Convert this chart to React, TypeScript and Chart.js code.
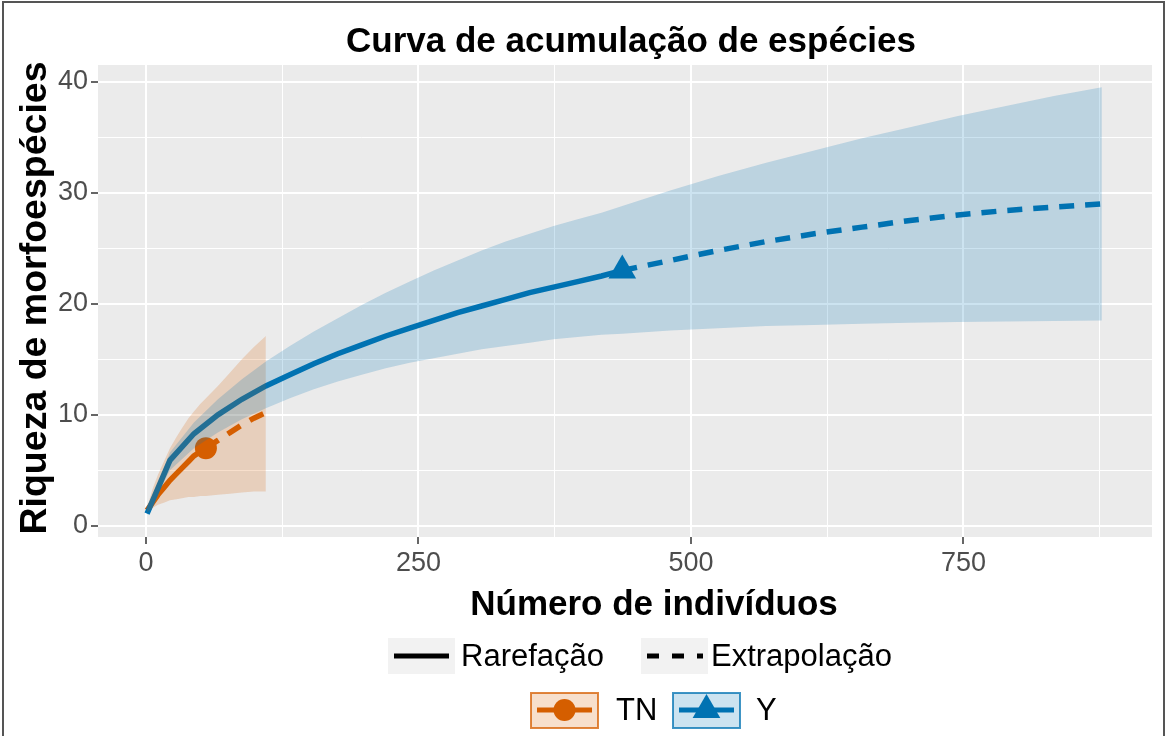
import { useEffect, useRef } from "react";
import { Chart, registerables } from "chart.js";
Chart.register(...registerables);

const titleText = "Curva de acumulação de espécies";
const xTitleText = "Número de indivíduos";
const yTitleText = "Riqueza de morfoespécies";
const legendTypeLabels = ["Rarefação", "Extrapolação"];
const legendGroupLabels = ["TN", "Y"];

const xMajorTicks = [0, 250, 500, 750];
const xMinorTicks = [125, 375, 625, 875];
const yMajorTicks = [0, 10, 20, 30, 40];
const yMinorTicks = [5, 15, 25, 35];

// TN (orange)
const tnRareN = [1, 6, 11, 17, 22, 28, 33, 39, 44, 50, 55];
const tnRareS = [1.4, 2.1, 2.8, 3.5, 4.1, 4.7, 5.2, 5.8, 6.3, 6.7, 7.0];
const tnExtN = [55, 66, 77, 88, 99, 110];
const tnExtS = [7.0, 7.7, 8.4, 9.1, 9.7, 10.2];
const tnObsN = [55];
const tnObsS = [7.0];
const tnBandN = [1, 6, 11, 17, 22, 28, 33, 39, 44, 50, 55, 66, 77, 88, 99, 110];
const tnBandHi = [1.6, 3.3, 4.6, 5.9, 7.0, 8.0, 8.8, 9.7, 10.3, 11.0, 11.5, 12.6, 13.8, 15.0, 16.1, 17.1];
const tnBandLo = [1.2, 1.6, 1.9, 2.1, 2.3, 2.4, 2.5, 2.6, 2.6, 2.7, 2.7, 2.8, 2.9, 3.0, 3.1, 3.1];

// Y (blue)
const yRareN = [1, 22, 44, 66, 88, 110, 132, 154, 176, 198, 220, 242, 264, 286, 308, 330, 352, 374, 396, 418, 437];
const yRareS = [1.1, 5.9, 8.3, 10.0, 11.4, 12.6, 13.6, 14.6, 15.5, 16.3, 17.1, 17.8, 18.5, 19.2, 19.8, 20.4, 21.0, 21.5, 22.0, 22.5, 23.0];
const yExtN = [437, 481, 525, 569, 613, 657, 701, 745, 789, 833, 877];
const yExtS = [23.0, 23.9, 24.8, 25.6, 26.3, 26.9, 27.5, 28.0, 28.4, 28.7, 29.0];
const yObsN = [437];
const yObsS = [23.0];
const yBandN = [1, 22, 44, 66, 88, 110, 132, 154, 176, 198, 220, 242, 264, 286, 308, 330, 352, 374, 396, 418, 437, 481, 525, 569, 613, 657, 701, 745, 789, 833, 877];
const yBandHi = [1.2, 6.6, 9.3, 11.4, 13.2, 14.8, 16.2, 17.5, 18.7, 19.9, 21.0, 22.0, 23.0, 23.9, 24.8, 25.6, 26.3, 27.0, 27.6, 28.2, 28.8, 30.2, 31.5, 32.7, 33.8, 34.9, 35.9, 36.9, 37.8, 38.7, 39.5];
const yBandLo = [1.0, 5.0, 7.0, 8.4, 9.6, 10.6, 11.5, 12.3, 13.0, 13.6, 14.2, 14.7, 15.1, 15.5, 15.9, 16.2, 16.5, 16.8, 17.0, 17.2, 17.3, 17.6, 17.8, 18.0, 18.1, 18.2, 18.3, 18.35, 18.4, 18.45, 18.5];

const ORANGE = "#D55E00";
const BLUE = "#0072B2";
const ORANGE_FILL = "rgba(213,94,0,0.2)";
const BLUE_FILL = "rgba(0,114,178,0.2)";
const FONT = "'Liberation Sans', Arial, Helvetica, sans-serif";

const pts = (xs: number[], ys: number[]) => xs.map((x, i) => ({ x, y: ys[i] }));

const decor = {
  id: "decor",
  beforeDraw(chart: any) {
    const { ctx, chartArea: a } = chart;
    ctx.save();
    ctx.fillStyle = "#ffffff";
    ctx.fillRect(0, 0, chart.width, chart.height);
    ctx.fillStyle = "#EBEBEB";
    ctx.fillRect(a.left, a.top, a.right - a.left, a.bottom - a.top);
    ctx.restore();
  },
  afterDraw(chart: any) {
    const { ctx } = chart;
    ctx.save();
    // Title
    ctx.fillStyle = "#000";
    ctx.font = `bold 35px ${FONT}`;
    ctx.textAlign = "center";
    ctx.textBaseline = "alphabetic";
    ctx.fillText(titleText, 631, 52);
    // X title
    ctx.font = `bold 35px ${FONT}`;
    ctx.fillText(xTitleText, 654, 615);
    // Y title
    ctx.save();
    ctx.translate(46, 298);
    ctx.rotate(-Math.PI / 2);
    ctx.font = `bold 37.5px ${FONT}`;
    ctx.fillText(yTitleText, 0, 0);
    ctx.restore();

    // Legend row 1
    const r1y = 656;
    ctx.fillStyle = "#F2F2F2";
    ctx.fillRect(388, 638, 67, 36);
    ctx.fillRect(641, 638, 67, 36);
    ctx.strokeStyle = "#000";
    ctx.lineWidth = 5;
    ctx.beginPath();
    ctx.moveTo(394, r1y);
    ctx.lineTo(449, r1y);
    ctx.stroke();
    ctx.setLineDash([12, 13]);
    ctx.beginPath();
    ctx.moveTo(647, r1y);
    ctx.lineTo(703, r1y);
    ctx.stroke();
    ctx.setLineDash([]);
    ctx.fillStyle = "#000";
    ctx.font = `31px ${FONT}`;
    ctx.textAlign = "left";
    ctx.textBaseline = "middle";
    ctx.fillText(legendTypeLabels[0], 461, r1y + 1);
    ctx.fillText(legendTypeLabels[1], 711, r1y + 1);

    // Legend row 2
    const r2y = 710;
    const keys = [
      { x: 531, c: ORANGE, f: ORANGE_FILL, shape: "circle", tx: 616 },
      { x: 673, c: BLUE, f: BLUE_FILL, shape: "triangle", tx: 756 },
    ];
    keys.forEach((k, i) => {
      ctx.fillStyle = k.f;
      ctx.fillRect(k.x, 693, 67, 35);
      ctx.strokeStyle = k.c;
      ctx.globalAlpha = 0.75;
      ctx.lineWidth = 2;
      ctx.strokeRect(k.x, 693, 67, 35);
      ctx.globalAlpha = 1;
      ctx.lineWidth = 5;
      ctx.beginPath();
      ctx.moveTo(k.x + 6, r2y);
      ctx.lineTo(k.x + 61, r2y);
      ctx.stroke();
      ctx.fillStyle = k.c;
      const cx = k.x + 33.5;
      if (k.shape === "circle") {
        ctx.beginPath();
        ctx.arc(cx, r2y, 11, 0, Math.PI * 2);
        ctx.fill();
      } else {
        const r = 16;
        ctx.beginPath();
        ctx.moveTo(cx, r2y - r);
        ctx.lineTo(cx + r * 0.866, r2y + r / 2);
        ctx.lineTo(cx - r * 0.866, r2y + r / 2);
        ctx.closePath();
        ctx.fill();
      }
      ctx.fillStyle = "#000";
      ctx.font = `31px ${FONT}`;
      ctx.fillText(legendGroupLabels[i], k.tx, r2y + 1);
    });

    // Frame
    ctx.strokeStyle = "#555";
    ctx.lineWidth = 2;
    ctx.strokeRect(3, 2, 1161, 760);
    ctx.restore();
  },
};

export default function App() {
  const ref = useRef<HTMLCanvasElement>(null);
  useEffect(() => {
    if (!ref.current) return;
    const xTicksAll = [...xMajorTicks, ...xMinorTicks].sort((a, b) => a - b);
    const yTicksAll = [...yMajorTicks, ...yMinorTicks].sort((a, b) => a - b);
    const band = (label: string, d: any[], fill: any, color: string, order: number) => ({
      label,
      data: d,
      borderWidth: 0,
      borderColor: "rgba(0,0,0,0)",
      backgroundColor: color,
      pointRadius: 0,
      fill,
      tension: 0,
      order,
    });
    const line = (label: string, d: any[], color: string, dashed: boolean, order: number) => ({
      label,
      data: d,
      borderColor: color,
      borderWidth: 5.5,
      borderDash: dashed ? [15, 11] : [],
      pointRadius: 0,
      fill: false,
      tension: 0,
      order,
    });
    const chart = new Chart(ref.current, {
      type: "line",
      data: {
        datasets: [
          band("TN hi", pts(tnBandN, tnBandHi), "+1", ORANGE_FILL, 1),
          band("TN lo", pts(tnBandN, tnBandLo), false, "rgba(0,0,0,0)", 1),
          band("Y hi", pts(yBandN, yBandHi), "+1", BLUE_FILL, 0),
          band("Y lo", pts(yBandN, yBandLo), false, "rgba(0,0,0,0)", 0),
          line("TN rare", pts(tnRareN, tnRareS), ORANGE, false, 4),
          line("TN ext", pts(tnExtN, tnExtS), ORANGE, true, 4),
          line("Y rare", pts(yRareN, yRareS), BLUE, false, 3),
          line("Y ext", pts(yExtN, yExtS), BLUE, true, 3),
          {
            label: "TN obs",
            data: pts(tnObsN, tnObsS),
            showLine: false,
            pointStyle: "circle",
            pointRadius: 11,
            pointBackgroundColor: ORANGE,
            pointBorderWidth: 0,
            order: 2,
          },
          {
            label: "Y obs",
            data: pts(yObsN, yObsS),
            showLine: false,
            pointStyle: "triangle",
            pointRadius: 16,
            pointBackgroundColor: BLUE,
            pointBorderWidth: 0,
            order: 2,
          },
        ] as any,
      },
      options: {
        animation: false,
        responsive: false,
        events: [],
        layout: { padding: { top: 65, right: 11, bottom: 0, left: 0 } },
        plugins: { legend: { display: false }, tooltip: { enabled: false }, title: { display: false } },
        scales: {
          x: {
            type: "linear",
            min: -44,
            max: 923,
            afterBuildTicks: (s: any) => {
              s.ticks = xTicksAll.map((v) => ({ value: v }));
            },
            afterFit: (s: any) => {
              s.height = 199;
            },
            border: { display: false },
            grid: {
              color: "#FFFFFF",
              lineWidth: (c: any) => (xMajorTicks.includes(c.tick?.value) ? 2 : 1),
              tickColor: (c: any) => (xMajorTicks.includes(c.tick?.value) ? "#333333" : "rgba(0,0,0,0)"),
              tickWidth: 1.5,
              tickLength: 7,
            },
            ticks: {
              autoSkip: false,
              maxRotation: 0,
              padding: 3,
              color: "#4D4D4D",
              font: { family: FONT, size: 27 },
              callback: (v: any) => (xMajorTicks.includes(Number(v)) ? String(v) : ""),
            },
          },
          y: {
            type: "linear",
            min: -1.0,
            max: 41.5,
            afterBuildTicks: (s: any) => {
              s.ticks = yTicksAll.map((v) => ({ value: v }));
            },
            afterFit: (s: any) => {
              s.width = 98;
            },
            border: { display: false },
            grid: {
              color: "#FFFFFF",
              lineWidth: (c: any) => (yMajorTicks.includes(c.tick?.value) ? 2 : 1),
              tickColor: (c: any) => (yMajorTicks.includes(c.tick?.value) ? "#333333" : "rgba(0,0,0,0)"),
              tickWidth: 1.5,
              tickLength: 7,
            },
            ticks: {
              autoSkip: false,
              padding: 3,
              color: "#4D4D4D",
              font: { family: FONT, size: 27 },
              callback: (v: any) => (yMajorTicks.includes(Number(v)) ? String(v) : ""),
            },
          },
        },
      },
      plugins: [decor],
    });
    return () => chart.destroy();
  }, []);
  return (
    <div style={{ position: "fixed", left: 0, top: 0, width: 1168, height: 736 }}>
      <canvas ref={ref} width={1168} height={736} style={{ display: "block" }} />
    </div>
  );
}
